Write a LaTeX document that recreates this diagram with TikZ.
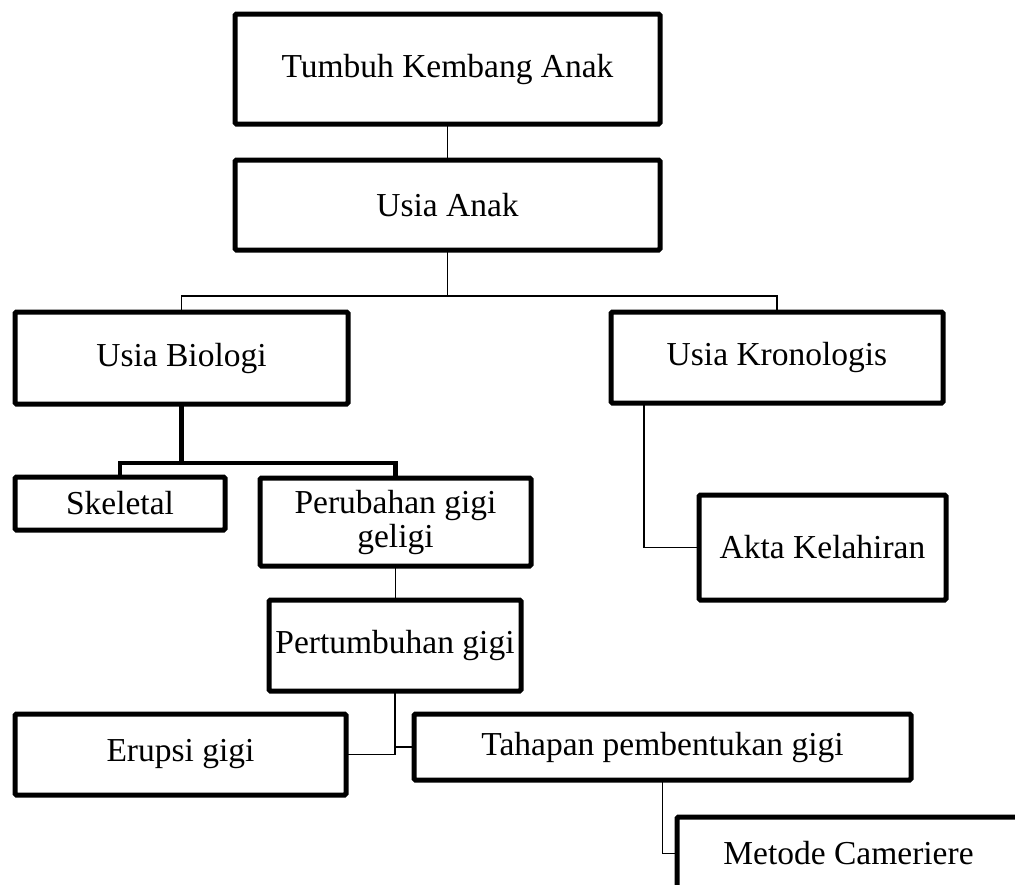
\documentclass[tikz,border=0pt]{standalone}
\usepackage{fontspec}
\setmainfont{Liberation Serif}
\usepackage{tikz}
\usetikzlibrary{positioning, calc}
\tikzset{
  kotakTebal/.style={rectangle, rounded corners=1.5pt, draw=black, line width=5pt, fill=white,
                     align=center, inner sep=0pt, outer sep=0pt, font=\fontsize{33.5}{34}\selectfont},
  garisTipis/.style={draw=black, line width=1.5pt},
  garisTebal/.style={draw=black, line width=4.5pt}
}

\begin{document}
\begin{tikzpicture}[x=1pt, y=-1pt]
            \path[use as bounding box, clip] (0,0) rectangle (1015,884);
            \fill[white] (0,0) rectangle (1015,884);

            \node[kotakTebal, minimum width=425pt, minimum height=110pt] (tumbuhKembang) at (447.5,69) {Tumbuh Kembang Anak};
            \node[kotakTebal, minimum width=425pt, minimum height=90pt] (usiaAnak) at (447.5,205) {Usia Anak};
            \node[kotakTebal, minimum width=333pt, minimum height=92pt] (usiaBiologi) at (181.5,358) {Usia Biologi};
            \node[kotakTebal, minimum width=332pt, minimum height=91pt] (usiaKronologis) at (777,357.5) {Usia Kronologis};
            \node[kotakTebal, minimum width=210pt, minimum height=53pt] (skeletal) at (120,503.5) {Skeletal};
            \node[kotakTebal, minimum width=271pt, minimum height=88pt] (perubahanGigi) at (395.5,522) {Perubahan gigi\\geligi};
            \node[kotakTebal, minimum width=252pt, minimum height=91pt] (pertumbuhanGigi) at (395,645.5) {Pertumbuhan gigi};
            \node[kotakTebal, minimum width=331pt, minimum height=81pt] (erupsiGigi) at (180.5,754.5) {Erupsi gigi};
            \node[kotakTebal, minimum width=497pt, minimum height=66pt] (tahapanGigi) at (662.5,747) {Tahapan pembentukan gigi};
            \node[kotakTebal, minimum width=247pt, minimum height=105pt] (aktaLahir) at (822.5,547.5) {Akta Kelahiran};
            \node[kotakTebal, minimum width=343pt, minimum height=73pt] (metodeCam) at (848.5,853.5) {Metode Cameriere};

            \coordinate (cabangUsia) at (447.5,296);
            \coordinate (cabangBiologi) at (181.5,463);

            \draw[garisTipis] (tumbuhKembang.south) -- (usiaAnak.north);
            \draw[garisTipis] (usiaAnak.south) -- (cabangUsia);
            \draw[garisTipis] (usiaBiologi.north) |- (cabangUsia) -| (usiaKronologis.north);
            \draw[garisTebal] (usiaBiologi.south) -- (cabangBiologi);
            \draw[garisTebal] (skeletal.north) |- (cabangBiologi) -| (perubahanGigi.north);
            \draw[garisTipis] (perubahanGigi.south) -- (perubahanGigi.south |- pertumbuhanGigi.north);
            \draw[garisTipis] (pertumbuhanGigi.south) |- (erupsiGigi.east);
            \draw[garisTipis] (pertumbuhanGigi.south |- tahapanGigi.west) -- (tahapanGigi.west);
            \draw[garisTipis] ($(usiaKronologis.south west)+(33,0)$) |- (aktaLahir.west);
            \draw[garisTipis] (tahapanGigi.south) |- (metodeCam.west);
        \end{tikzpicture}
\end{document}
